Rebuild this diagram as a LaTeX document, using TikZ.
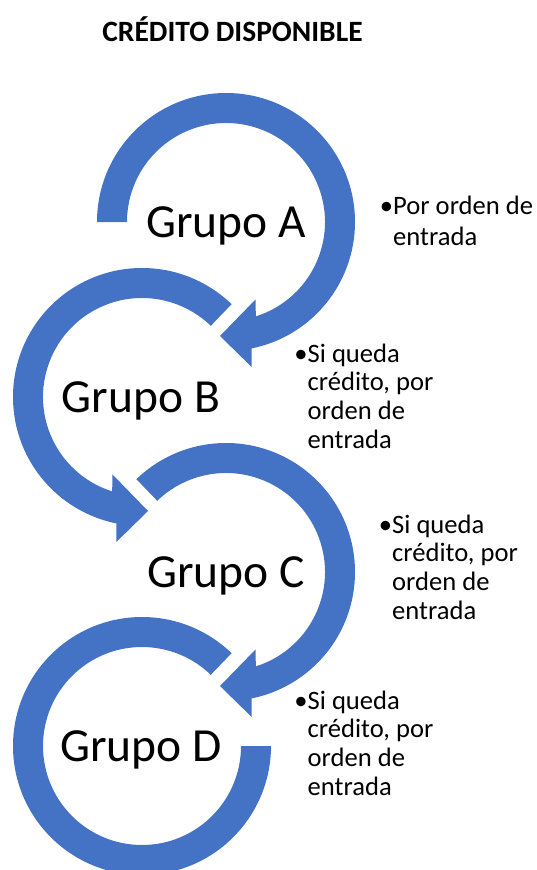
\documentclass[tikz,border=0pt]{standalone}
\usepackage{fontspec}
\setmainfont{Carlito}
\definecolor{arrowblue}{HTML}{4472C4}
\begin{document}
\begin{tikzpicture}[x=1pt,y=1pt,
  band/.style={fill=arrowblue, draw=none},
  grp/.style={anchor=base, inner sep=0pt, font=\fontsize{47.5}{56}\selectfont},
  note/.style={anchor=base west, inner sep=0pt},
  titletext/.style={anchor=base, inner sep=0pt, font=\fontsize{29.5}{35}\selectfont\bfseries}]
\useasboundingbox (0,0) rectangle (536,-870);

% Circle A
\begin{scope}[shift={(226,-222)}]
\fill[band] (180:129) arc[start angle=180, end angle=-78.6, radius=129]
  -- (25.7,-145) -- (-6,-114) -- (29.7,-77.3) -- (-72.5:99)
  arc[start angle=-72.5, end angle=180, radius=99] -- cycle;
\end{scope}
% Circle B
\begin{scope}[shift={(142,-397)}]
\fill[band] (46:129) arc[start angle=46, end angle=258.6, radius=129]
  -- (-25.7,-145) -- (6,-114) -- (-29.7,-77.3) -- (252.5:99)
  arc[start angle=252.5, end angle=46, radius=99] -- cycle;
\end{scope}
% Circle C
\begin{scope}[shift={(226,-572)}]
\fill[band] (134:129) arc[start angle=134, end angle=-78.6, radius=129]
  -- (25.7,-145) -- (-6,-114) -- (29.7,-77.3) -- (-72.5:99)
  arc[start angle=-72.5, end angle=134, radius=99] -- cycle;
\end{scope}
% Circle D
\begin{scope}[shift={(142,-746)}]
\fill[band] (46:129) arc[start angle=46, end angle=360, radius=129]
  -- (360:99) arc[start angle=360, end angle=46, radius=99] -- cycle;
\end{scope}

\node[titletext] (title) at (232.5,-41) {CRÉDITO DISPONIBLE};

\node[grp] (ga) at (226,-237) {Grupo A};
\node[grp] (gb) at (141,-412) {Grupo B};
\node[grp] (gc) at (226,-587) {Grupo C};
\node[grp] (gd) at (141,-761) {Grupo D};

\node[note] (na) at (393,-214) {\fontsize{26.6}{31.5}\selectfont
  \begin{tabular}[t]{@{}l@{}}\llap{•}Por orden de\\ entrada\end{tabular}};
\node[note] (nb) at (307.5,-362) {\fontsize{26.6}{28.7}\selectfont
  \begin{tabular}[t]{@{}l@{}}\llap{•}Si queda\\ crédito, por\\ orden de\\ entrada\end{tabular}};
\node[note] (nc) at (392,-533) {\fontsize{26.6}{28.7}\selectfont
  \begin{tabular}[t]{@{}l@{}}\llap{•}Si queda\\ crédito, por\\ orden de\\ entrada\end{tabular}};
\node[note] (nd) at (307.5,-709) {\fontsize{26.6}{28.7}\selectfont
  \begin{tabular}[t]{@{}l@{}}\llap{•}Si queda\\ crédito, por\\ orden de\\ entrada\end{tabular}};
\end{tikzpicture}
\end{document}
